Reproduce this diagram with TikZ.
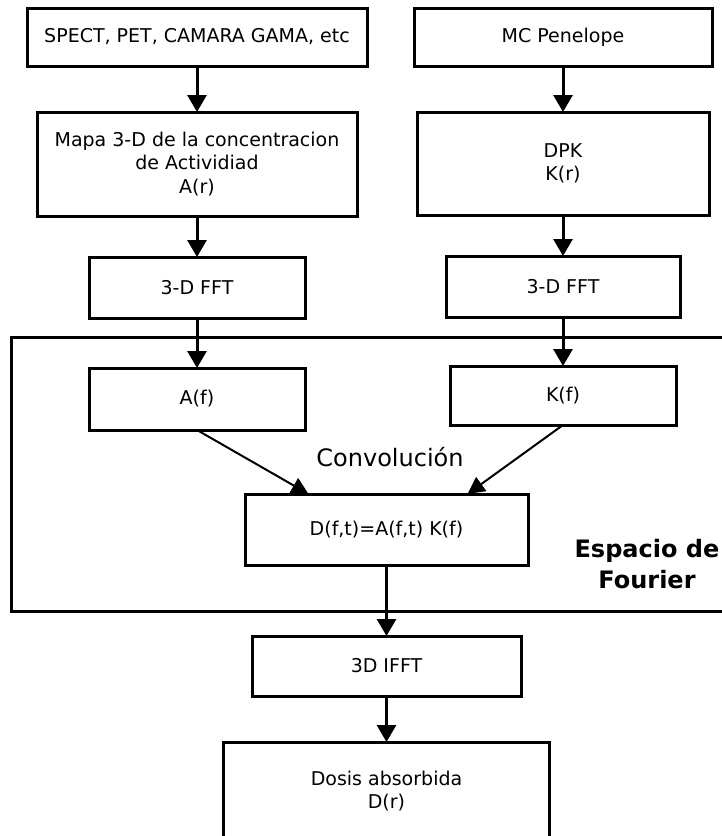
\documentclass[tikz,border=0pt]{standalone}
\usepackage{fontspec}
\setmainfont{DejaVu Sans}
\usetikzlibrary{arrows.meta, positioning}

\begin{document}
\begin{tikzpicture}[
    x=1pt, y=1pt,
    node distance=46pt and 47pt,
    block/.style={rectangle, draw=black, line width=3pt, outer sep=0pt, align=center, font=\fontsize{19}{23.3}\selectfont},
    arrow/.style={-{Triangle[width=19pt,length=17pt]}, line width=3pt},
    thinarrow/.style={-{Triangle[width=17pt,length=17pt]}, line width=2pt}
]
    \useasboundingbox (0,0) rectangle (722,-836);
    \clip (0,0) rectangle (722,-836);

    % Activity branch
    \node[block, minimum width=340pt, minimum height=58pt] (spect) at (197,-37) {SPECT, PET, CAMARA GAMA, etc};
    \node[block, minimum width=320pt, minimum height=104pt, below=46pt of spect] (mapa) {Mapa 3-D de la concentracion\\de Actividiad\\A(r)};
    \node[block, minimum width=216pt, minimum height=61pt, below=41pt of mapa] (fftA) {3-D FFT};
    \node[block, minimum width=216pt, minimum height=62pt, below=50pt of fftA] (af) {A(f)};

    % Kernel branch
    \node[block, minimum width=298pt, minimum height=58pt] (mc) at (563,-37) {MC Penelope};
    \node[block, minimum width=292pt, minimum height=103pt, below=46pt of mc] (dpk) {DPK\\K(r)};
    \node[block, minimum width=234pt, minimum height=61pt, below=41pt of dpk] (fftK) {3-D FFT};
    \node[block, minimum width=226pt, minimum height=59pt, below=49pt of fftK] (kf) {K(f)};

    % Product and inverse transform
    \node[block, minimum width=283pt, minimum height=71pt] (dft) at (386.5,-529.5) {D(f,t)=A(f,t) K(f)};
    \node[block, minimum width=269pt, minimum height=60pt, below=71pt of dft] (ifft) {3D IFFT};
    \node[block, minimum width=326pt, minimum height=98pt, below=46pt of ifft] (dosis) {Dosis absorbida\\D(r)};

    % Fourier space
    \draw[line width=3pt] (11.5,-337) rectangle (760,-611);
    \node[font=\fontsize{24}{31}\selectfont\bfseries, align=center] (espacio) at (647,-564) {Espacio de\\Fourier};
    \node[font=\fontsize{24}{29}\selectfont] (conv) at (390,-457) {Convolución};

    % Flow
    \draw[arrow] (spect) -- (mapa);
    \draw[arrow] (mapa) -- (fftA);
    \draw[arrow] (fftA) -- (af);
    \draw[arrow] (mc) -- (dpk);
    \draw[arrow] (dpk) -- (fftK);
    \draw[arrow] (fftK) -- (kf);
    \draw[thinarrow] (af.south) -- ([xshift=-78pt]dft.north);
    \draw[thinarrow] (kf.south) -- ([xshift=81pt]dft.north);
    \draw[arrow] (dft) -- (ifft);
    \draw[arrow] (ifft) -- (dosis);
\end{tikzpicture}
\end{document}
